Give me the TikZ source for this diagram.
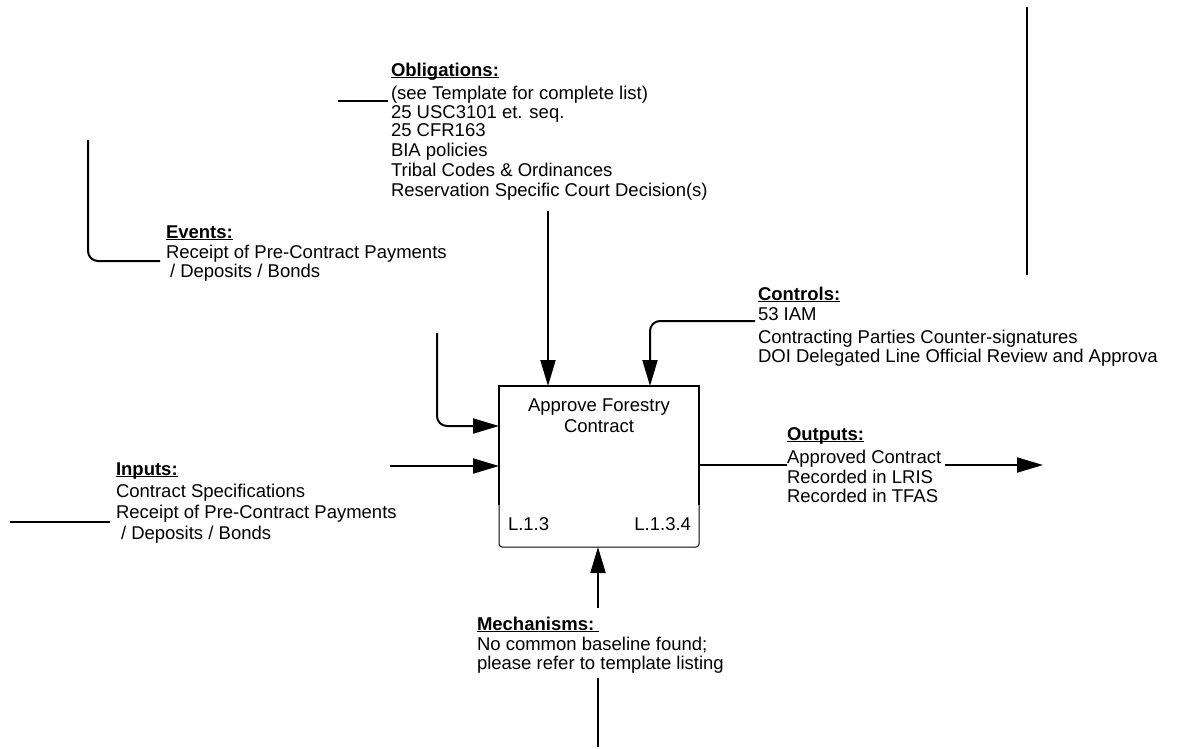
\documentclass[tikz,border=0pt]{standalone}
\usepackage{fontspec}
\setmainfont{Liberation Sans}
\usetikzlibrary{arrows.meta,calc}
% bold heading with a tight underline just below the baseline
\newcommand{\ulhead}[1]{{\bfseries\setbox0\hbox{#1}\rlap{\rule[-2.2pt]{\wd0}{1.3pt}}\box0}}
\begin{document}
\begin{tikzpicture}[x=1pt,y=-1pt,
  ln/.style={anchor=base west,inner sep=0pt,outer sep=0pt,font=\fontsize{18.5}{20}\selectfont},
  conn/.style={line width=2pt},
  arr/.style={conn,-{Triangle[length=26pt,width=15pt]}},
  boxline/.style={line width=2.3pt},
  compline/.style={line width=1pt},
  boxnode/.style={anchor=north west,minimum width=200pt,minimum height=161pt,inner sep=0pt,outer sep=0pt}]
\useasboundingbox (0,0) rectangle (1193,748);

% activity box
\node[boxnode] (box) at (499,386) {};
\coordinate (split) at (600,505);
\fill[white] (box.west |- split) rectangle (box.south east);
\draw[boxline] (box.west |- split) -- (box.north west) -- (box.north east) -- (box.east |- split);
\draw[compline,rounded corners=3pt] (box.west |- split) -- (box.south west) -- (box.south east) -- (box.east |- split);
\node[ln,anchor=base] (bx1) at ($(box.north)+(0,25)$) {Approve Forestry};
\node[ln,anchor=base] (bx2) at ($(box.north)+(0,46)$) {Contract};
\node[ln] (id1) at ($(box.south west)+(9,-17)$) {L.1.3};
\node[ln,anchor=base east] (id2) at ($(box.south east)+(-8,-17)$) {L.1.3.4};

% obligations
\node[ln] (ob0) at (391,76) {\ulhead{Obligations:}};
\node[ln] (ob1) at (391,99) {(see Template for complete list)};
\node[ln] (ob2) at (391,118) {25 USC3101 et. seq.};
\node[ln] (ob3) at (391,136) {25 CFR163};
\node[ln] (ob4) at (391,156) {BIA policies};
\node[ln] (ob5) at (391,176) {Tribal Codes \& Ordinances};
\node[ln] (ob6) at (391,196) {Reservation Specific Court Decision(s)};
\coordinate (obl1) at (338,101);
\coordinate (obl2) at (388,101);
\draw[conn] (obl1) -- (obl2);
\coordinate (obsrc) at (548,211);
\draw[arr] (obsrc) -- (obsrc |- box.north);

% events
\node[ln] (ev0) at (166,238) {\ulhead{Events:}};
\node[ln] (ev1) at (166,258) {Receipt of Pre-Contract Payments};
\node[ln] (ev2) at (170,277) {/ Deposits / Bonds};
\coordinate (evtop) at (88,140);
\coordinate (evend) at (160,261);
\draw[conn,rounded corners=10pt] (evtop) |- (evend);
\coordinate (evsrc) at (437,333);
\draw[arr,rounded corners=10pt] (evsrc) |- ($(box.north west)+(0,40)$);

% controls
\node[ln] (ct0) at (758,300) {\ulhead{Controls:}};
\node[ln] (ct1) at (758,320) {53 IAM};
\node[ln] (ct2) at (758,343) {Contracting Parties Counter-signatures};
\node[ln] (ct3) at (758,362) {DOI Delegated Line Official Review and Approva};
\coordinate (ctsrc) at (755,321);
\draw[arr,rounded corners=10pt] (ctsrc) -| ($(box.north west)+(151,0)$);
\coordinate (rt1) at (1027,7);
\coordinate (rt2) at (1027,275);
\draw[conn] (rt1) -- (rt2);

% inputs
\node[ln] (in0) at (116,475) {\ulhead{Inputs:}};
\node[ln] (in1) at (116,497) {Contract Specifications};
\node[ln] (in2) at (116,518) {Receipt of Pre-Contract Payments};
\node[ln] (in3) at (121,539) {/ Deposits / Bonds};
\coordinate (insrc) at (390,466);
\draw[arr] (insrc) -- (insrc -| box.west);
\coordinate (inl1) at (10,522);
\coordinate (inl2) at (110,522);
\draw[conn] (inl1) -- (inl2);

% outputs
\node[ln] (ou0) at (787,440) {\ulhead{Outputs:}};
\node[ln] (ou1) at (787,463) {Approved Contract};
\node[ln] (ou2) at (787,483) {Recorded in LRIS};
\node[ln] (ou3) at (787,502) {Recorded in TFAS};
\coordinate (out1) at (787,465);
\draw[conn] (out1 -| box.east) -- (out1);
\coordinate (out2) at (945,465);
\coordinate (out3) at (1043,465);
\draw[arr] (out2) -- (out3);

% mechanisms
\node[ln] (me0) at (477,630) {\ulhead{Mechanisms:\ }};
\node[ln] (me1) at (477,650) {No common baseline found;};
\node[ln] (me2) at (477,669) {please refer to template listing};
\coordinate (mesrc) at (598,608);
\draw[arr] (mesrc) -- (mesrc |- box.south);
\coordinate (mel1) at (598,678);
\coordinate (mel2) at (598,747);
\draw[conn] (mel1) -- (mel2);
\end{tikzpicture}
\end{document}
